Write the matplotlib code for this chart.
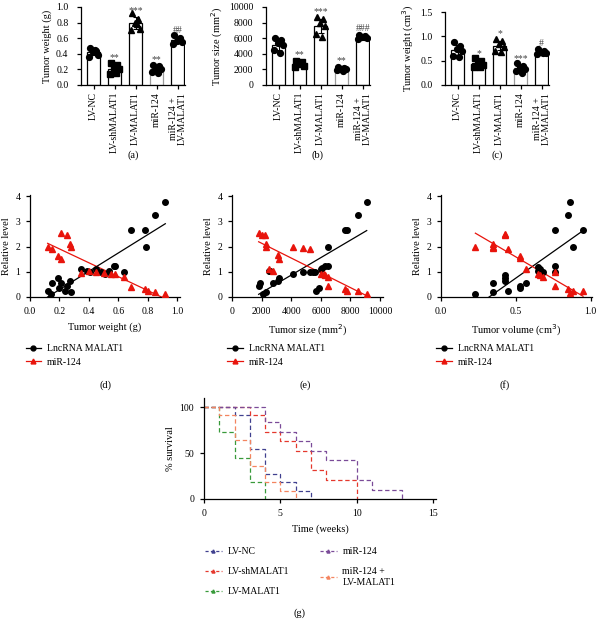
import numpy as np
import matplotlib
matplotlib.use("Agg")
import matplotlib.pyplot as plt
from matplotlib.lines import Line2D

plt.rcParams['font.family'] = ['Liberation Serif', 'DejaVu Serif']
plt.rcParams['font.size'] = 7
plt.rcParams['axes.linewidth'] = 0.9
plt.rcParams['xtick.major.width'] = 0.9
plt.rcParams['ytick.major.width'] = 0.9
plt.rcParams['xtick.major.size'] = 3
plt.rcParams['ytick.major.size'] = 3

W, H = 598, 619

# ---- data: bar panels (a)-(c) ----
groups = ["LV-NC", "LV-shMALAT1", "LV-MALAT1", "miR-124", "miR-124 +\nLV-MALAT1"]

weight_pts = [
    [0.47, 0.44, 0.42, 0.38, 0.36, 0.45],
    [0.28, 0.26, 0.22, 0.20, 0.14, 0.16],
    [0.92, 0.85, 0.80, 0.72, 0.70, 0.78],
    [0.26, 0.24, 0.22, 0.20, 0.17, 0.16],
    [0.64, 0.60, 0.57, 0.55, 0.53, 0.58],
]
size_pts = [
    [6000, 5800, 5400, 5100, 4500, 4100],
    [3100, 2900, 2700, 2500, 2300, 2800],
    [8700, 8500, 8000, 7500, 6500, 6200],
    [2300, 2200, 2100, 2000, 1900, 1800],
    [6400, 6300, 6100, 6000, 5900, 6200],
]
volume_pts = [
    [0.88, 0.80, 0.75, 0.70, 0.60, 0.58],
    [0.55, 0.50, 0.46, 0.42, 0.38, 0.36],
    [0.95, 0.90, 0.85, 0.78, 0.70, 0.68],
    [0.45, 0.40, 0.36, 0.32, 0.28, 0.25],
    [0.75, 0.70, 0.68, 0.66, 0.64, 0.65],
]
sig_a = ["", "**", "***", "**", "##"]
sig_b = ["", "**", "***", "**", "###"]
sig_c = ["", "*", "*", "***", "#"]

# ---- data: correlation panels (d)-(f) ----
d_malat_x = [0.12, 0.14, 0.15, 0.19, 0.20, 0.21, 0.24, 0.25, 0.27, 0.28, 0.35, 0.39, 0.41,
             0.45, 0.48, 0.51, 0.54, 0.57, 0.58, 0.64, 0.69, 0.78, 0.79, 0.85, 0.92]
d_malat_y = [0.25, 0.10, 0.55, 0.75, 0.35, 0.55, 0.25, 0.45, 0.65, 0.20, 1.12, 1.05, 1.00,
             1.12, 1.00, 0.90, 1.05, 1.22, 1.22, 1.00, 2.65, 2.65, 2.00, 3.25, 3.78]
d_mir_x = [0.12, 0.15, 0.19, 0.21, 0.21, 0.25, 0.27, 0.28, 0.35, 0.40, 0.45, 0.50, 0.55,
           0.58, 0.64, 0.69, 0.78, 0.80, 0.85, 0.92]
d_mir_y = [2.00, 1.90, 1.62, 1.50, 2.55, 2.45, 2.10, 2.00, 0.95, 1.05, 1.00, 0.95, 0.90,
           0.90, 0.78, 0.40, 0.30, 0.25, 0.20, 0.12]

e_malat_x = [1800, 1900, 2100, 2300, 2500, 2600, 2800, 3100, 3200, 4100, 4800, 5300, 5500,
             5600, 5700, 5900, 6000, 6100, 6300, 6500, 6500, 7600, 7800, 8500, 9100]
e_malat_y = [0.45, 0.55, 0.12, 0.20, 1.05, 1.05, 0.55, 0.65, 0.75, 0.90, 1.00, 1.00, 1.00,
             1.00, 0.25, 0.35, 1.12, 1.15, 1.22, 1.22, 2.00, 2.65, 2.65, 3.25, 3.78]
e_mir_x = [1800, 2000, 2200, 2300, 2300, 2500, 2800, 3100, 3200, 4100, 4800, 5300, 6000,
           6200, 6300, 6500, 6500, 7600, 7800, 8500, 9100]
e_mir_y = [2.55, 2.45, 2.45, 2.10, 2.00, 1.10, 1.05, 1.65, 1.52, 2.00, 1.95, 1.92, 0.90,
           0.90, 0.88, 0.78, 0.42, 0.32, 0.25, 0.22, 0.12]

f_malat_x = [0.23, 0.35, 0.35, 0.43, 0.43, 0.43, 0.45, 0.53, 0.53, 0.57, 0.65, 0.65, 0.66,
             0.67, 0.68, 0.76, 0.76, 0.76, 0.85, 0.86, 0.88, 0.95]
f_malat_y = [0.12, 0.20, 0.55, 0.65, 0.75, 0.88, 0.25, 0.35, 0.42, 0.55, 1.05, 1.20, 1.12,
             1.00, 1.00, 1.00, 1.22, 2.65, 3.25, 3.78, 2.00, 2.65]
f_mir_x = [0.23, 0.35, 0.35, 0.35, 0.43, 0.43, 0.45, 0.53, 0.53, 0.57, 0.65, 0.66, 0.68,
           0.76, 0.76, 0.85, 0.86, 0.88, 0.95]
f_mir_y = [2.00, 2.10, 2.00, 1.95, 2.50, 2.45, 1.90, 1.62, 1.55, 1.12, 0.92, 0.88, 0.80,
           0.42, 1.00, 0.32, 0.15, 0.25, 0.22]

# ---- data: survival panel (g) ----
surv_names = ["LV-NC", "LV-shMALAT1", "LV-MALAT1", "miR-124", "miR-124 +\nLV-MALAT1"]
surv_t = [
    [0, 2, 3, 4, 5, 6, 7],
    [0, 3, 4, 5, 6, 7, 8, 10],
    [0, 1, 2, 3, 4],
    [0, 4, 5, 6, 7, 8, 10, 11, 13],
    [0, 1, 2, 3, 4, 5, 6],
]
surv_p = [
    [100, 91, 55, 27, 18, 9, 0],
    [100, 92, 73, 63, 52, 32, 21, 0],
    [100, 73, 45, 18, 0],
    [100, 84, 73, 63, 52, 42, 21, 10, 0],
    [100, 91, 64, 36, 18, 9, 0],
]
surv_colors = ["#40408f", "#e5382d", "#389a3a", "#7a4b98", "#f4845f"]

fig = plt.figure(figsize=(W / 100, H / 100), dpi=100)


def px_axes(l, t, r, b):
    return fig.add_axes([l / W, 1 - b / H, (r - l) / W, (b - t) / H])


def style(ax, pad=2):
    ax.spines['top'].set_visible(False)
    ax.spines['right'].set_visible(False)
    ax.tick_params(labelsize=7, pad=pad)


markers = ['o', 's', '^', 'o', 'o']
jitter = [-0.18, 0.1, -0.05, 0.2, -0.2, 0.05]


def bar_panel(ax, pts, sig, ylim, yticks, ylabel):
    x = np.arange(len(groups))
    means = [np.mean(p) for p in pts]
    sds = [np.std(p) for p in pts]
    edges = ['black', 'black', 'black', '#9a9a9a', 'black']
    ax.bar(x, means, width=0.65, color='white', edgecolor=edges, linewidth=0.9, zorder=1)
    ax.errorbar(x, means, yerr=sds, fmt='none', ecolor='black', elinewidth=0.8,
                capsize=2.5, capthick=0.8, zorder=3)
    for i, p in enumerate(pts):
        ax.plot(i + np.array(jitter[:len(p)]), p, ls='none', marker=markers[i],
                ms=4.2, color='black', zorder=2)
        if sig[i]:
            ax.text(i, means[i] + sds[i] + (ylim[1] - ylim[0]) * 0.03, sig[i],
                    ha='center', va='bottom', fontsize=7, color='#444444')
    ax.set_xlim(-0.6, 4.35)
    ax.set_ylim(*ylim)
    ax.set_yticks(yticks)
    ax.set_xticks(x)
    ax.set_xticklabels(groups, rotation=90, fontsize=7, linespacing=0.95)
    ax.set_ylabel(ylabel, fontsize=7.5, labelpad=3)
    style(ax)
    ax.tick_params(axis='y', pad=6)


ax_a = px_axes(81, 7, 185, 85)
bar_panel(ax_a, weight_pts, sig_a, (0, 1.0), [0, 0.2, 0.4, 0.6, 0.8, 1.0], "Tumor weight (g)")
ax_a.set_yticklabels(["0.0", "0.2", "0.4", "0.6", "0.8", "1.0"])

ax_b = px_axes(266, 7, 370, 85)
bar_panel(ax_b, size_pts, sig_b, (0, 10000), [0, 2000, 4000, 6000, 8000, 10000],
          "Tumor size (mm$^2$)")

ax_c = px_axes(445, 12, 549, 85)
bar_panel(ax_c, volume_pts, sig_c, (0, 1.5), [0, 0.5, 1.0, 1.5], "Tumor weight (cm$^3$)")
ax_c.set_yticklabels(["0.0", "0.5", "1.0", "1.5"])

for xc, lab in [(133, "(a)"), (318, "(b)"), (497, "(c)")]:
    fig.text(xc / W, 1 - 155 / H, lab, ha='center', va='center', fontsize=7.5)


def corr_panel(ax, mx, my, rx, ry, xlim, xticks, xticklabels, xlabel):
    ax.plot(mx, my, ls='none', marker='o', ms=4, color='black', zorder=3)
    ax.plot(rx, ry, ls='none', marker='^', ms=4, color='#e8140c', zorder=3)
    for xs, ys, c in [(mx, my, 'black'), (rx, ry, '#e8140c')]:
        k, b = np.polyfit(xs, ys, 1)
        xx = np.array([min(xs), max(xs)])
        ax.plot(xx, k * xx + b, color=c, lw=0.9, zorder=2)
    ax.set_xlim(*xlim)
    ax.set_ylim(0, 4.05)
    ax.set_yticks([0, 1, 2, 3, 4])
    ax.set_xticks(xticks)
    ax.set_xticklabels(xticklabels)
    ax.set_xlabel(xlabel, fontsize=7.5, labelpad=5)
    ax.set_ylabel("Relative level", fontsize=7.5, labelpad=3)
    style(ax, pad=4)
    handles = [Line2D([], [], color='black', marker='o', ms=3.5, lw=0.9),
               Line2D([], [], color='#e8140c', marker='^', ms=3.5, lw=0.9)]
    ax.legend(handles, ["LncRNA MALAT1", "miR-124"], loc='upper left',
              bbox_to_anchor=(-0.03, -0.46), frameon=False, fontsize=7,
              handlelength=1.6, handletextpad=0.6, labelspacing=0.5,
              borderaxespad=0, borderpad=0)


ax_d = px_axes(30, 195, 180, 297)
corr_panel(ax_d, d_malat_x, d_malat_y, d_mir_x, d_mir_y, (0, 1.02),
           [0, 0.2, 0.4, 0.6, 0.8, 1.0], ["0.0", "0.2", "0.4", "0.6", "0.8", "1.0"],
           "Tumor weight (g)")
ax_e = px_axes(232, 195, 383, 297)
corr_panel(ax_e, e_malat_x, e_malat_y, e_mir_x, e_mir_y, (0, 10200),
           [0, 2000, 4000, 6000, 8000, 10000], ["0", "2000", "4000", "6000", "8000", "10000"],
           "Tumor size (mm$^2$)")
ax_f = px_axes(441, 195, 592, 297)
corr_panel(ax_f, f_malat_x, f_malat_y, f_mir_x, f_mir_y, (0, 1.01),
           [0, 0.5, 1.0], ["0.0", "0.5", "1.0"], "Tumor volume (cm$^3$)")

for xc, lab in [(105, "(d)"), (305, "(e)"), (505, "(f)")]:
    fig.text(xc / W, 1 - 385 / H, lab, ha='center', va='center', fontsize=7.5)

# ---- survival ----
ax_g = px_axes(204, 398, 436, 499)
for t, p, c in zip(surv_t, surv_p, surv_colors):
    ax_g.step(t, p, where='post', color=c, lw=0.9, dashes=(3.5, 2.2))
ax_g.set_xlim(0, 15.2)
ax_g.set_ylim(0, 110)
ax_g.set_xticks([0, 5, 10, 15])
ax_g.set_yticks([0, 50, 100])
ax_g.set_xlabel("Time (weeks)", fontsize=7.5, labelpad=5)
ax_g.set_ylabel("% survival", fontsize=7.5, labelpad=3)
style(ax_g, pad=4)

handles = [Line2D([], [], color=c, lw=0.9, dashes=(2.5, 1.8), marker='^', ms=2.2)
           for c in surv_colors]
fig.legend(handles[:3], surv_names[:3], loc='upper left', bbox_transform=fig.transFigure,
           bbox_to_anchor=(205 / W, 1 - 547 / H), frameon=False, fontsize=7,
           handlelength=1.7, handletextpad=0.6, labelspacing=1.15, borderaxespad=0,
           borderpad=0)
fig.legend(handles[3:], surv_names[3:], loc='upper left', bbox_transform=fig.transFigure,
           bbox_to_anchor=(320 / W, 1 - 547 / H), frameon=False, fontsize=7,
           handlelength=1.7, handletextpad=0.6, labelspacing=1.15, borderaxespad=0,
           borderpad=0)
fig.text(300 / W, 1 - 613 / H, "(g)", ha='center', va='center', fontsize=7.5)

fig.savefig("out.png", dpi=100)
